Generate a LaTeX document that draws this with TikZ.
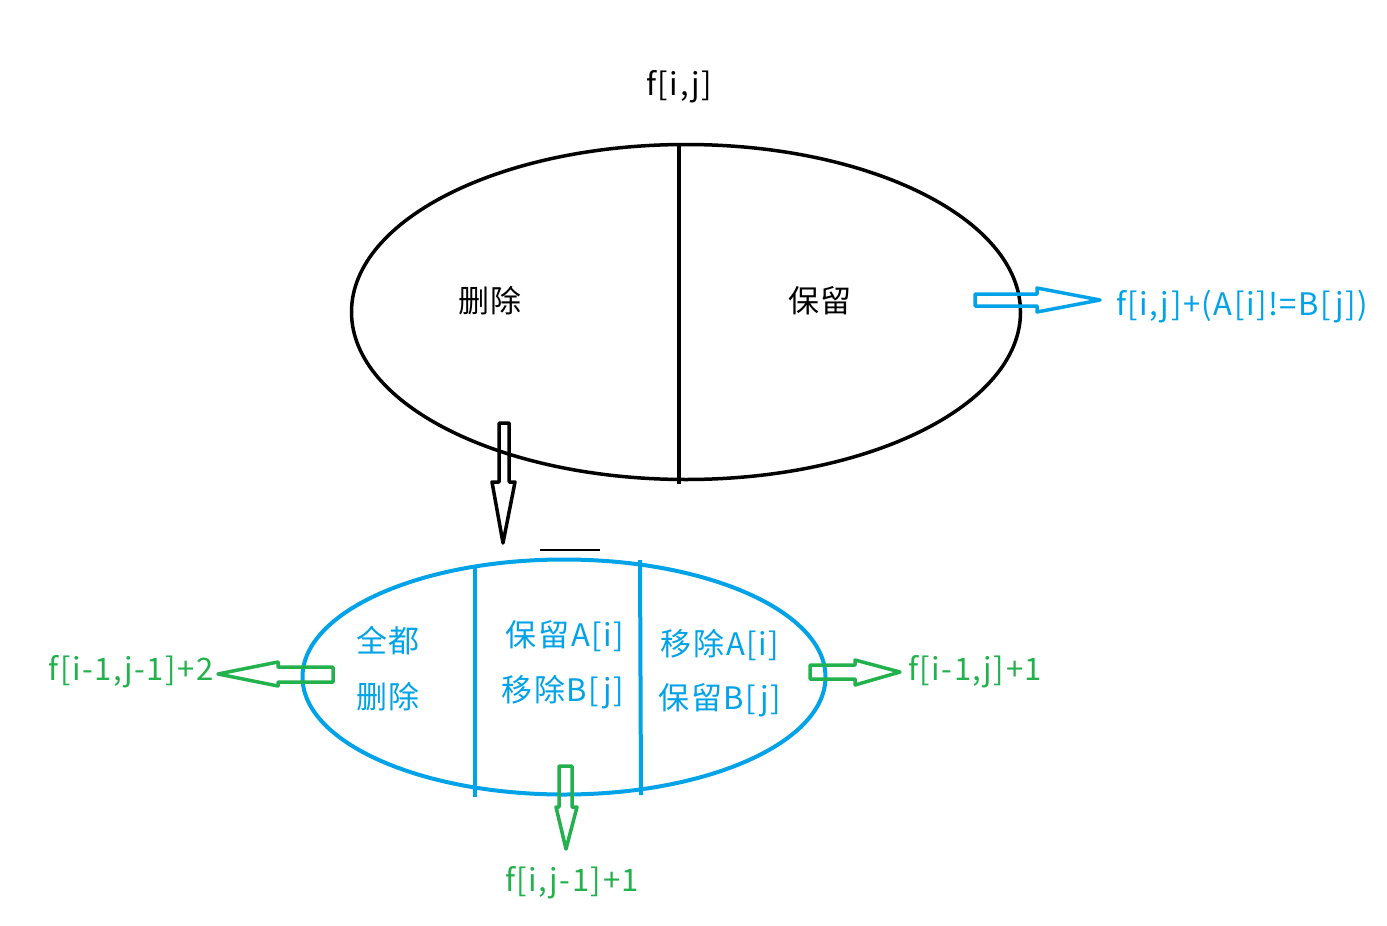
\documentclass[tikz,border=0pt]{standalone}
\usepackage{fontspec}
\setmainfont[LetterSpace=5]{Noto Sans CJK SC}
\usetikzlibrary{shapes.geometric}
\definecolor{pblue}{RGB}{0,162,232}
\definecolor{pgreen}{RGB}{34,177,76}
\begin{document}
\begin{tikzpicture}[x=1pt,y=-1pt,
  lbl/.style={inner sep=0pt,font=\fontsize{31}{36}\selectfont},
  oval/.style={ellipse,draw,inner sep=0pt},
  harrow/.style={line width=3.5pt,line join=round}]
\useasboundingbox[fill=white] (0,0) rectangle (1387,926);
% top ellipse
\node[oval,line width=3.5pt,minimum width=669pt,minimum height=335pt] (top) at (686,312) {};
\draw[line width=3.5pt] (679,145) -- (679,484);
\node[lbl] (title) at (679,87) {f[i,j]};
\node[lbl] (del) at (490,301) {删除};
\node[lbl] (keep) at (820,301) {保留};
% blue arrow + label
\draw[harrow,pblue] (975,294) -- (1037,294) -- (1037,288) -- (1100,300) -- (1037,312) -- (1037,306) -- (975,306) -- cycle;
\node[lbl,pblue,anchor=west] (res) at (1116,307) {f[i,j]+(A[i]!=B[j])};
% black down arrow
\draw[harrow,black] (499,423) -- (509,423) -- (509,482) -- (515,482) -- (503,543) -- (492,482) -- (499,482) -- cycle;
\draw[line width=1.5pt] (540,550) -- (600,550);
% bottom ellipse
\node[oval,pblue,line width=4pt,minimum width=523pt,minimum height=235pt] (bot) at (564,677) {};
\draw[pblue,line width=4pt] (475,567) -- (475,797);
\draw[pblue,line width=4pt] (640,560) -- (641,795);
\node[lbl,pblue] (a1) at (388,641) {全都};
\node[lbl,pblue] (a2) at (388,697) {删除};
\node[lbl,pblue] (b1) at (565,636) {保留A[i]};
\node[lbl,pblue] (b2) at (563,692) {移除B[j]};
\node[lbl,pblue] (c1) at (720,645) {移除A[i]};
\node[lbl,pblue] (c2) at (720,700) {保留B[j]};
% green arrows
\draw[harrow,pgreen] (333,667) -- (278,667) -- (278,662) -- (218,674) -- (278,686) -- (278,682) -- (333,682) -- cycle;
\node[lbl,pgreen] (g1) at (131,672) {f[i-1,j-1]+2};
\draw[harrow,pgreen] (810,665) -- (855,665) -- (855,660) -- (900,672) -- (855,685) -- (855,679) -- (810,679) -- cycle;
\node[lbl,pgreen] (g2) at (975,672) {f[i-1,j]+1};
\draw[harrow,pgreen] (559,766) -- (572,766) -- (572,807) -- (577,807) -- (566,849) -- (556,807) -- (559,807) -- cycle;
\node[lbl,pgreen] (g3) at (572,883) {f[i,j-1]+1};
\end{tikzpicture}
\end{document}
